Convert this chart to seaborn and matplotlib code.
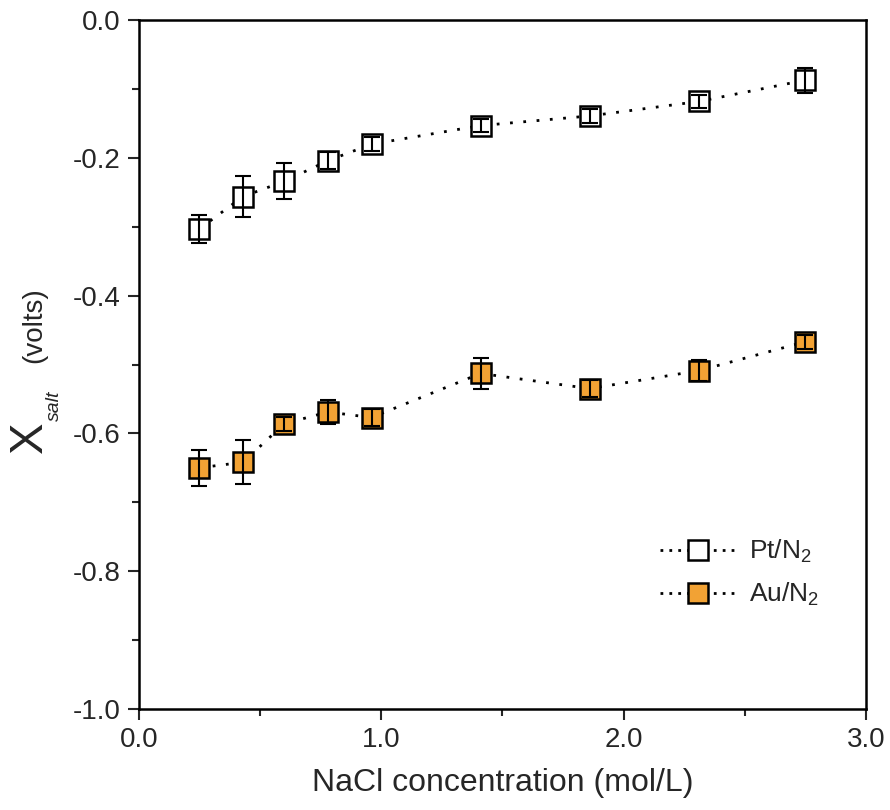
import numpy as np
import pandas as pd
import matplotlib
matplotlib.use("Agg")
import matplotlib.pyplot as plt
import seaborn as sns
from matplotlib.ticker import MultipleLocator, FormatStrFormatter
from matplotlib.lines import Line2D

sns.set_style("white")
plt.rcParams['font.family'] = ['Liberation Sans', 'DejaVu Sans']
plt.rcParams['mathtext.fontset'] = 'custom'
plt.rcParams['mathtext.rm'] = 'Liberation Sans'
plt.rcParams['mathtext.it'] = 'Liberation Sans:italic'

conc = [0.25, 0.43, 0.60, 0.78, 0.96, 1.41, 1.86, 2.31, 2.75]
pt_vals = [-0.303, -0.256, -0.234, -0.204, -0.180, -0.153, -0.139, -0.118, -0.087]
pt_err = [0.020, 0.030, 0.026, 0.012, 0.010, 0.010, 0.010, 0.010, 0.018]
au_vals = [-0.650, -0.642, -0.586, -0.569, -0.577, -0.513, -0.535, -0.509, -0.467]
au_err = [0.026, 0.032, 0.010, 0.018, 0.012, 0.023, 0.012, 0.015, 0.010]
series_names = ["Pt/N$_2$", "Au/N$_2$"]

df = pd.DataFrame({
    "conc": conc * 2,
    "val": pt_vals + au_vals,
    "err": pt_err + au_err,
    "series": [series_names[0]] * len(conc) + [series_names[1]] * len(conc),
})

fig = plt.figure(figsize=(8.9, 8.1), dpi=100)
ax = fig.add_axes([0.156, 0.125, 0.817, 0.850])

face = {series_names[0]: "white", series_names[1]: "#F2A234"}
dots = (0, (1, 3.8))
for name in series_names:
    sub = df[df.series == name]
    sns.lineplot(data=sub, x="conc", y="val", ax=ax, color="black",
                 linestyle=dots, linewidth=2.0, marker="s",
                 markersize=15, markerfacecolor=face[name],
                 markeredgecolor="black", markeredgewidth=1.8, zorder=3,
                 legend=False)
    ax.errorbar(sub.conc, sub.val, yerr=sub.err, fmt="none", ecolor="black",
                elinewidth=1.5, capsize=5.5, capthick=1.5, zorder=4)

ax.set_xlim(0, 3.0)
ax.set_ylim(-1.0, 0.0)
ax.xaxis.set_major_locator(MultipleLocator(1.0))
ax.xaxis.set_minor_locator(MultipleLocator(0.5))
ax.yaxis.set_major_locator(MultipleLocator(0.2))
ax.yaxis.set_minor_locator(MultipleLocator(0.1))
ax.xaxis.set_major_formatter(FormatStrFormatter("%.1f"))
ax.yaxis.set_major_formatter(FormatStrFormatter("%.1f"))
ax.tick_params(which="major", direction="out", length=8, width=1.5,
               labelsize=20, bottom=True, left=True, top=False, right=False, pad=5)
ax.tick_params(which="minor", direction="out", length=5, width=1.5,
               bottom=True, left=True, top=False, right=False)
for s in ax.spines.values():
    s.set_linewidth(1.8)
    s.set_color("black")

ax.set_xlabel("NaCl concentration (mol/L)", fontsize=23, labelpad=11)
ax.set_ylabel("")
W, H = 890.0, 810.0
fig.text(30 / W, 1 - 437 / H, "X", rotation=90, fontsize=34,
         ha="center", va="center")
fig.text(54 / W, 1 - 406 / H, "salt", rotation=90, fontsize=14, style="italic",
         ha="center", va="center")
fig.text(34 / W, 1 - 325 / H, "(volts)", rotation=90, fontsize=20,
         family=['Liberation Sans Narrow', 'Liberation Sans', 'DejaVu Sans'],
         ha="center", va="center")

handles = [Line2D([], [], color="black", linestyle=(0, (1, 2.2)), linewidth=2.0,
                  marker="s", markersize=15, markerfacecolor=face[n],
                  markeredgecolor="black", markeredgewidth=1.8) for n in series_names]
ax.legend(handles, series_names, loc="upper left", bbox_to_anchor=(0.717, 0.248),
          frameon=False, fontsize=19, handlelength=2.9, labelspacing=0.6,
          handletextpad=0.45, borderpad=0, borderaxespad=0)

fig.savefig("out.png", dpi=100)
